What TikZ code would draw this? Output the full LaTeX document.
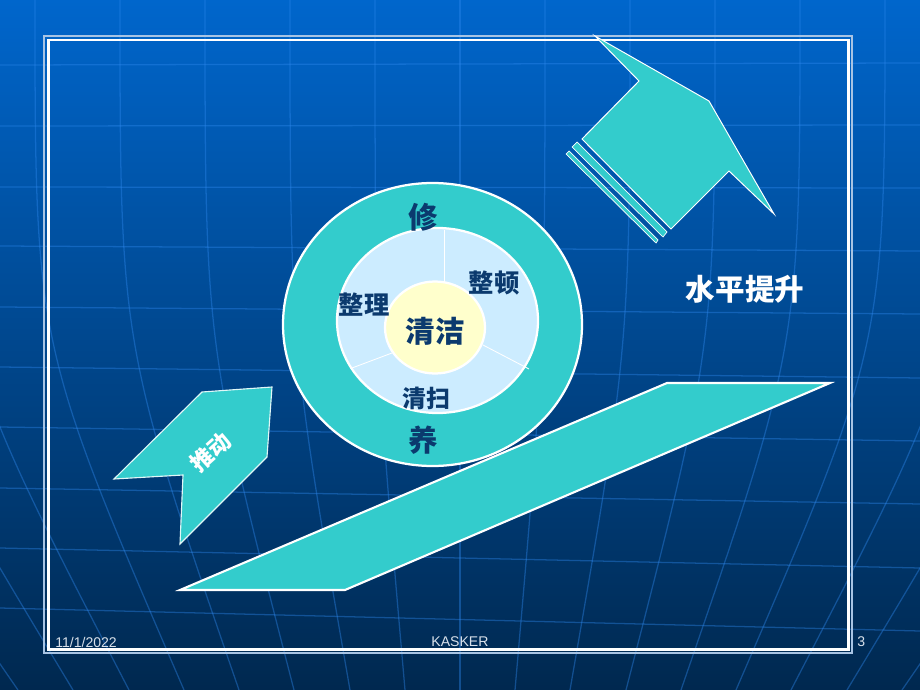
\documentclass[tikz,border=0pt]{standalone}
\usepackage{fontspec}
\setmainfont{Liberation Sans}
\newfontfamily\cjk{Noto Sans CJK SC}
\usepackage{tikz}
\definecolor{bgtop}{HTML}{0066CC}
\definecolor{bgbottom}{HTML}{00284F}
\definecolor{gridblue}{HTML}{2E88EE}
\definecolor{tealfill}{HTML}{33CCCC}
\definecolor{ringblue}{HTML}{CCECFF}
\definecolor{coreyellow}{HTML}{FFFFCC}
\definecolor{navytext}{HTML}{0B3A6E}
\definecolor{framegrey}{HTML}{A8C4E4}
\definecolor{foottext}{HTML}{D8E0EA}

\begin{document}
\begin{tikzpicture}[x=0.025cm, y=-0.025cm,
		tealshape/.style={fill=tealfill, draw=white, line width=0.7pt, line join=miter},
		gridline/.style={draw=gridblue, opacity=0.4, line width=0.9pt},
		ringtext/.style={text=navytext, inner sep=0pt, font=\cjk\bfseries\fontsize{#1}{#1}\selectfont},
		foot/.style={text=foottext, inner sep=0pt, font=\fontsize{10}{10}\selectfont}]
		%%%%% START %%%%%
		
		\useasboundingbox (0, 0) rectangle (920, 690);
		\shade[top color=bgtop, bottom color=bgbottom] (0, 0) rectangle (920, 690);
		
		% globe grid
		\begin{scope}
		\clip (0, 0) rectangle (920, 690);
		\draw[gridline] (0, 65) -- (920, 63);
		\draw[gridline] (0, 126) -- (920, 125);
		\draw[gridline] (0, 187) -- (920, 188);
		\draw[gridline] (0, 246) -- (920, 251);
		\draw[gridline] (0, 307) -- (920, 314);
		\draw[gridline] (0, 367) -- (920, 378);
		\draw[gridline] (0, 427) -- (920, 441);
		\draw[gridline] (0, 488) -- (920, 504);
		\draw[gridline] (0, 548) -- (920, 568);
		\draw[gridline] (0, 608) -- (920, 631);
		\draw[gridline] (-220, 0) .. controls (-220, 345) .. (18, 690);
		\draw[gridline] (-135, 0) .. controls (-135, 345) .. (73, 690);
		\draw[gridline] (-50, 0) .. controls (-50, 345) .. (129, 690);
		\draw[gridline] (35, 0) .. controls (35, 345) .. (184, 690);
		\draw[gridline] (120, 0) .. controls (120, 345) .. (239, 690);
		\draw[gridline] (205, 0) .. controls (205, 345) .. (294, 690);
		\draw[gridline] (290, 0) .. controls (290, 345) .. (350, 690);
		\draw[gridline] (375, 0) .. controls (375, 345) .. (405, 690);
		\draw[gridline] (460, 0) -- (460, 690);
		\draw[gridline] (545, 0) .. controls (545, 345) .. (515, 690);
		\draw[gridline] (630, 0) .. controls (630, 345) .. (570, 690);
		\draw[gridline] (715, 0) .. controls (715, 345) .. (626, 690);
		\draw[gridline] (800, 0) .. controls (800, 345) .. (681, 690);
		\draw[gridline] (885, 0) .. controls (885, 345) .. (736, 690);
		\draw[gridline] (970, 0) .. controls (970, 345) .. (791, 690);
		\draw[gridline] (1055, 0) .. controls (1055, 345) .. (847, 690);
		\draw[gridline] (1140, 0) .. controls (1140, 345) .. (902, 690);
		\end{scope}
		
		% frame
		\draw[color=framegrey, line width=1.3pt] (44, 36) rectangle (852, 653);
		\draw[color=white, line width=1.5pt] (48.5, 40) rectangle (848.5, 649.5);
		
		% arrow up right
		\draw[tealshape] (595, 36) -- (709, 101) -- (774, 214) -- (729, 171) -- (671, 229) -- (582, 139) -- (639, 81) -- cycle;
		\draw[tealshape, line width=0.5pt] (577, 142) -- (667, 232) -- (663, 237) -- (572, 147) -- cycle;
		\draw[tealshape, line width=0.5pt] (569, 151) -- (658, 240) -- (656, 243) -- (566, 154) -- cycle;
		
		% rings
		\draw[fill=tealfill, draw=white, line width=1.6pt] (432.5, 324.5) ellipse [x radius=149.5, y radius=141.5];
		\draw[fill=ringblue, draw=white, line width=1.6pt] (437.5, 320.5) ellipse [x radius=100.5, y radius=92.5];
		\draw[color=white, line width=0.6pt] (444, 230) -- (444, 283);
		\draw[color=white, line width=0.6pt] (483, 345) -- (529, 369);
		\draw[color=white, line width=0.6pt] (392, 353) -- (352, 368);
		\draw[fill=coreyellow, draw=white, line width=1.6pt] (435, 327.5) ellipse [x radius=50, y radius=46];
		
		% ramp
		\draw[tealshape, line width=1.5pt] (180, 590) -- (667, 383) -- (830, 383) -- (345, 590) -- cycle;
		
		% push arrow
		\draw[tealshape, draw=white!85!tealfill, line width=0.8pt] (114, 479) -- (202, 392) -- (272, 387) -- (267, 457) -- (180, 544) -- (183, 475) -- cycle;
		
		% labels
		\node[ringtext=21] (xiu) at (423, 217) {修};
		\node[ringtext=18] (zhengdun) at (494, 283) {整顿};
		\node[ringtext=18] (zhengli) at (364, 305) {整理};
		\node[ringtext=21] (qingjie) at (435, 331) {清洁};
		\node[ringtext=17] (qingsao) at (426, 398) {清扫};
		\node[ringtext=21] (yang) at (423, 440) {养};
		\node[ringtext=21, text=white] (shuiping) at (745, 289) {水平提升};
		\node[ringtext=16, text=white, rotate=42] (tuidong) at (211, 452) {推动};
		
		\node[foot, anchor=west] (date) at (55, 642) {11/1/2022};
		\node[foot] (company) at (460, 642) {KASKER};
		\node[foot, anchor=west] (page) at (857, 642) {3};
		
		%%%%% END %%%%%
	\end{tikzpicture}
\end{document}
